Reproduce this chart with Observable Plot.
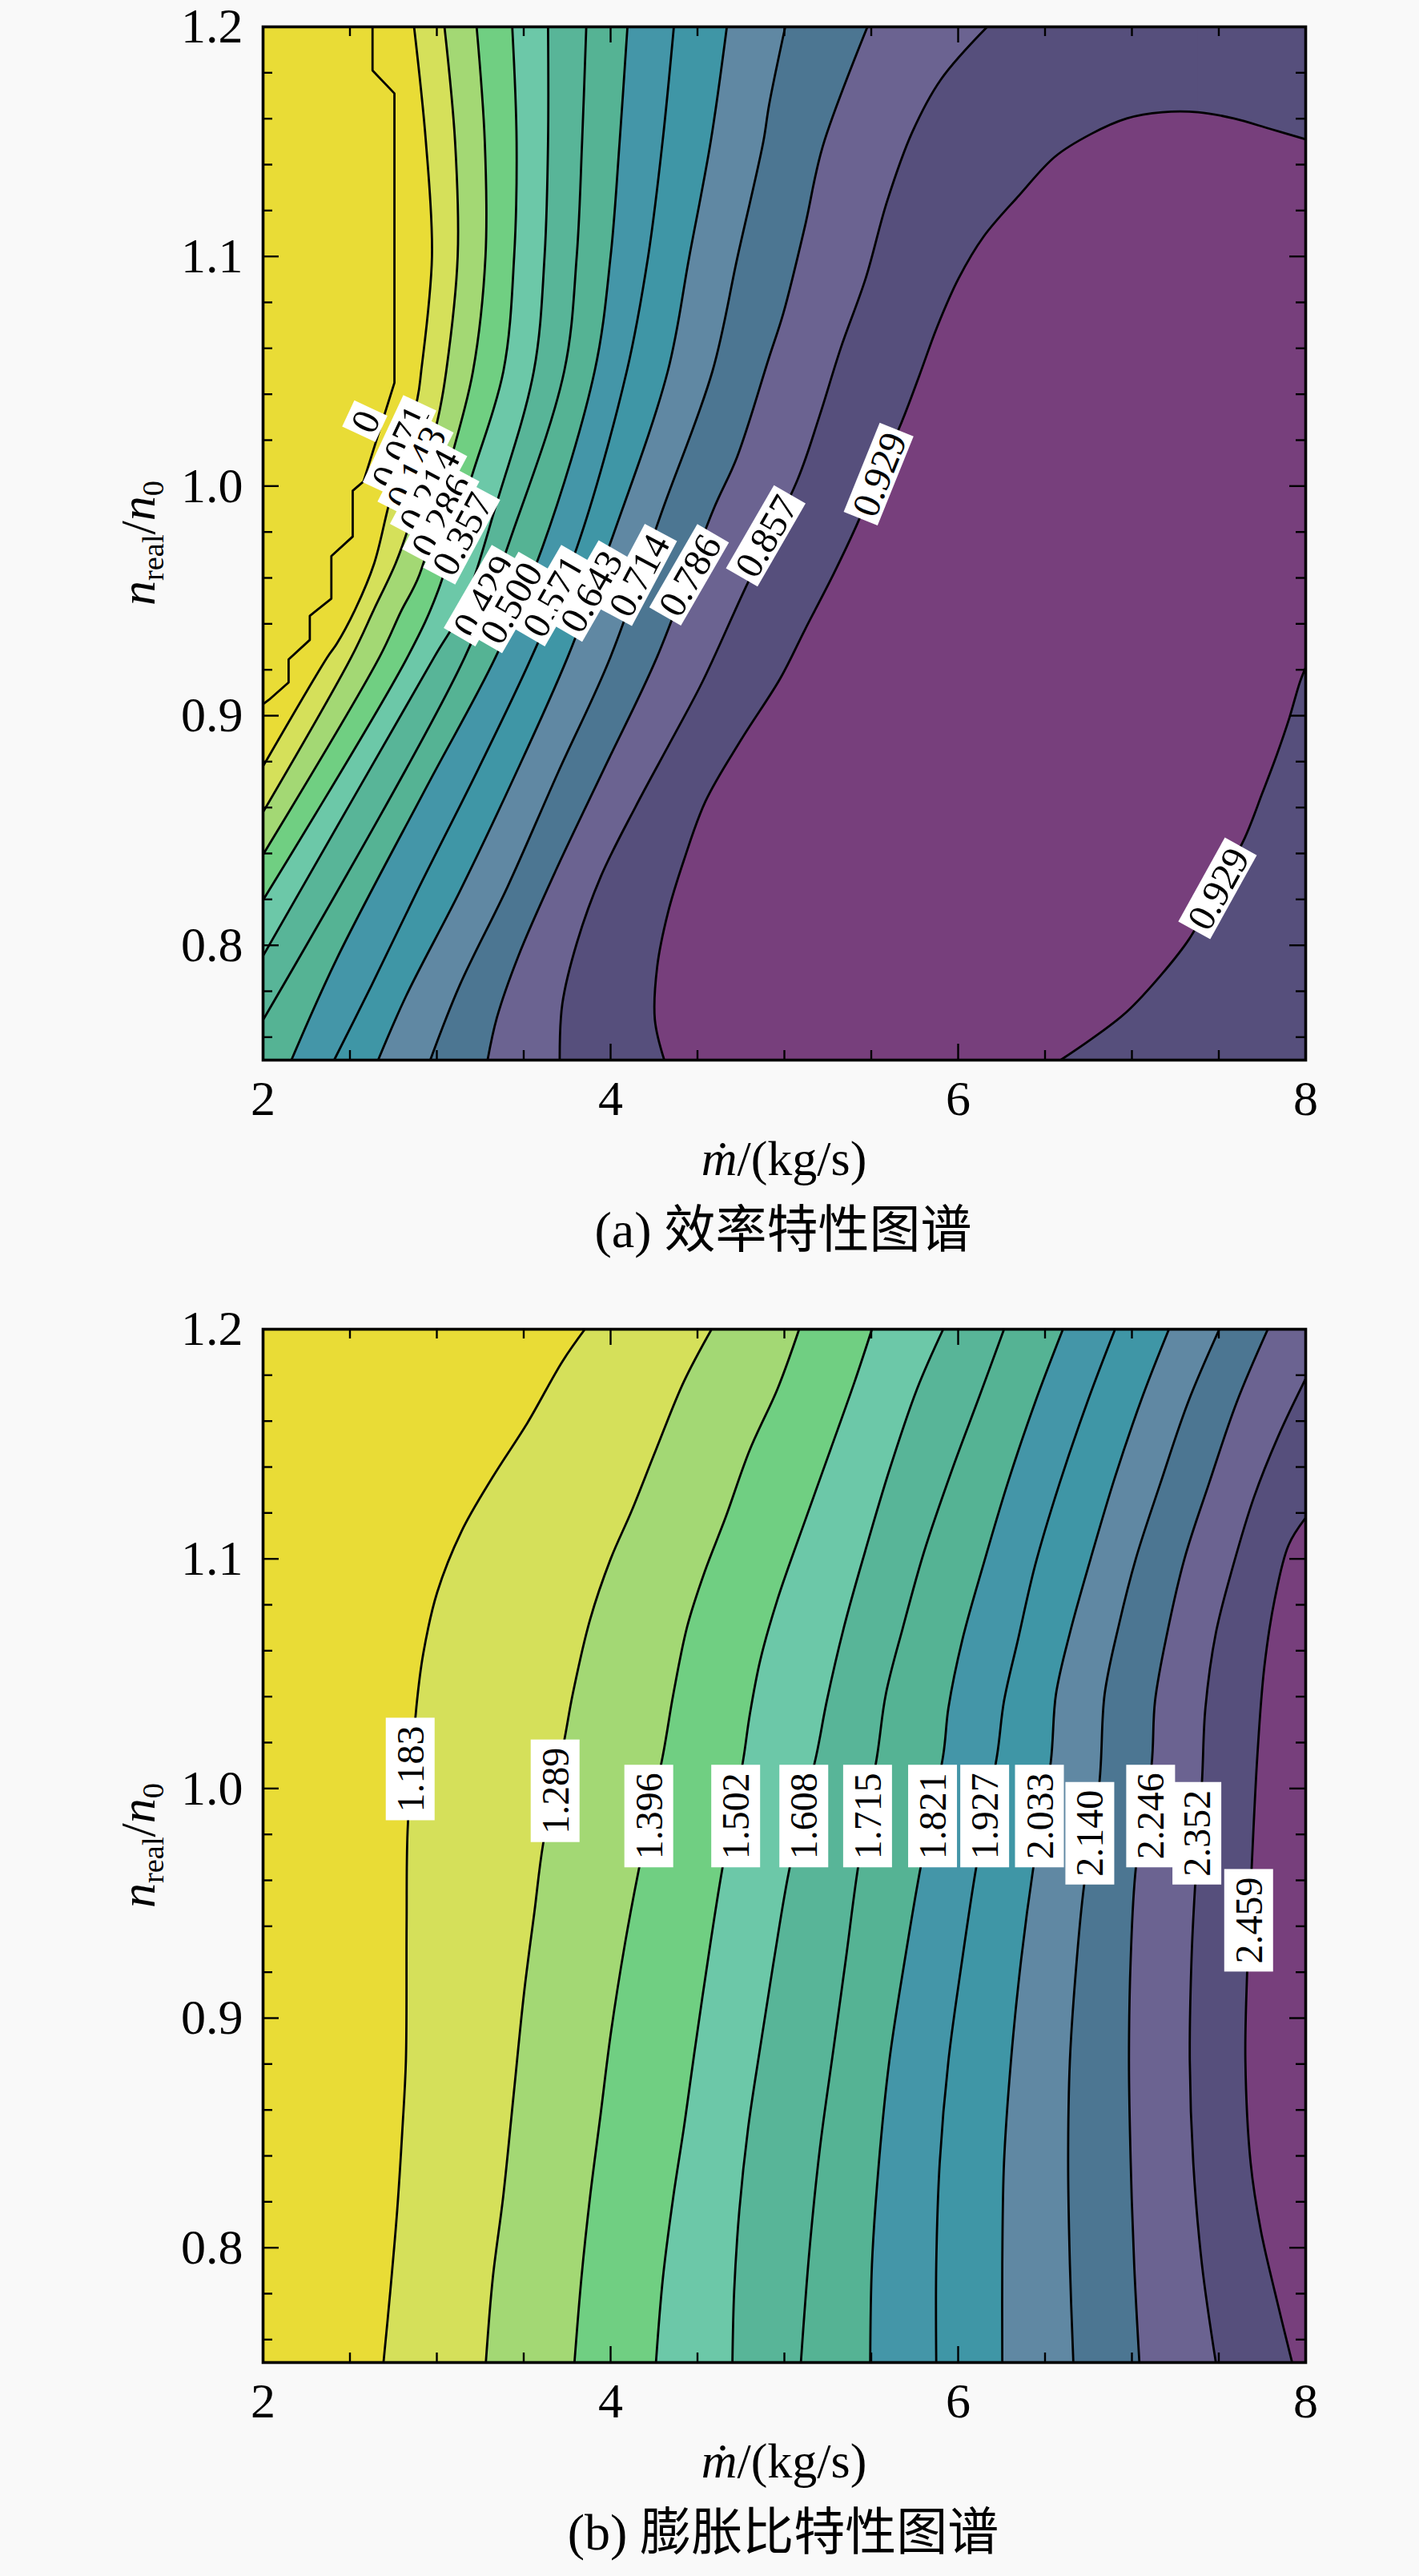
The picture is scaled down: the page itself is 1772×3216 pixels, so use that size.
<!DOCTYPE html>
<html>
<head>
<meta charset="utf-8">
<script src="https://cdn.jsdelivr.net/npm/d3@7"></script>
<script src="https://cdn.jsdelivr.net/npm/@observablehq/plot@0.6"></script>
<style>
  html, body { margin: 0; padding: 0; background: #f9f9f9; }
  body { width: 1772px; height: 3216px; position: relative; overflow: hidden; }
  .panel { position: absolute; left: 0; }
  .lab { position: absolute; font-family: 'Liberation Serif', 'Times New Roman', serif; font-size: 62px; line-height: 1; white-space: nowrap; color: #000; }
  .cap { font-family: 'Liberation Serif', 'Noto Sans CJK SC', serif; font-size: 64px; }
  .lab sub { font-size: 0.62em; vertical-align: -0.28em; line-height: 0; }
</style>
</head>
<body>
<div id="pa" class="panel" style="top:0px"></div>
<div id="pb" class="panel" style="top:1626px"></div>

<div class="lab" style="left:979px; top:1415px; transform:translateX(-50%)"><i>ṁ</i>/(kg/s)</div>
<div class="lab cap" style="left:978px; top:1504px; transform:translateX(-50%)">(a) 效率特性图谱</div>
<div class="lab" style="left:172px; top:678px; transform:translate(-50%,-50%) rotate(-90deg)"><i>n</i><sub>real</sub>/<i>n</i><sub>0</sub></div>

<div class="lab" style="left:979px; top:3041px; transform:translateX(-50%)"><i>ṁ</i>/(kg/s)</div>
<div class="lab cap" style="left:978px; top:3130px; transform:translateX(-50%)">(b) 膨胀比特性图谱</div>
<div class="lab" style="left:172px; top:2304px; transform:translate(-50%,-50%) rotate(-90deg)"><i>n</i><sub>real</sub>/<i>n</i><sub>0</sub></div>

<script>
// ---------------- shared axis data ----------------
const xMajor = [2, 4, 6, 8];
const xMinor = [2.5, 3, 3.5, 4.5, 5, 5.5, 6.5, 7, 7.5];
const yMajor = [0.8, 0.9, 1.0, 1.1, 1.2];
const yMinor = [0.76, 0.78, 0.82, 0.84, 0.86, 0.88, 0.92, 0.94, 0.96, 0.98, 1.02, 1.04, 1.06, 1.08, 1.12, 1.14, 1.16, 1.18];

// band colours, lowest band -> highest band
const palette = ["#e9dc36", "#d5e05a", "#a3d874", "#70cf82", "#6cc8a8", "#58b598", "#55b394",
                 "#4496a8", "#3f96a6", "#6088a3", "#4c7692", "#6b6391", "#564f7c", "#773f7c"];

// ---------------- (a) efficiency map: contour lines [x, y] ----------------
const eff0 = [[2.63,1.2],[2.63,1.181],[2.756,1.171],[2.756,1.045],[2.578,1.002],[2.516,0.998],[2.516,0.978],
  [2.393,0.9695],[2.393,0.951],[2.269,0.9435],[2.269,0.933],[2.147,0.9245],[2.147,0.9145],[2.035,0.907],[2.0,0.905]];
const eff071 = [[2.869,1.2],[2.937,1.15],[2.972,1.1],[2.91,1.05],[2.888,1.038],[2.7235,0.9918],[2.639,0.9662],
  [2.531,0.9464],[2.424,0.9313],[2.37,0.9255],[2.0,0.878]];
const eff143 = [[3.044,1.2],[3.105,1.15],[3.12,1.1],[3.054,1.05],[3.008,1.03],[2.839,0.9825],[2.762,0.9662],
  [2.639,0.9464],[2.508,0.9255],[2.0,0.858]];
const eff214 = [[3.229,1.2],[3.276,1.15],[3.28,1.1],[3.208,1.05],[3.085,1.0127],[2.9,0.9614],[2.793,0.9453],
  [2.67,0.9255],[2.0,0.8395]];
const eff286 = [[3.434,1.2],[3.459,1.15],[3.445,1.1],[3.383,1.05],[3.192,1.002],[3.008,0.9546],[2.831,0.9255],[2.0,0.8197]];
const eff357 = [[3.64,1.2],[3.64,1.15],[3.62,1.1],[3.558,1.05],[3.346,0.993],[3.146,0.9464],[2.985,0.9255],[2.0,0.7954]];
const eff429 = [[3.86,1.2],[3.836,1.15],[3.805,1.1],[3.733,1.05],[3.437,0.98],[3.161,0.9255],[2.0,0.7675]];
const eff500 = [[4.097,1.2],[4.052,1.15],[4.0,1.1],[3.908,1.05],[3.607,0.9732],[3.338,0.9255],[2.946,0.8697],
  [2.424,0.7941],[2.163,0.75]];
const eff571 = [[4.364,1.2],[4.299,1.15],[4.216,1.1],[4.093,1.05],[3.806,0.9732],[3.545,0.9255],[3.238,0.8767],
  [2.885,0.8233],[2.624,0.7825],[2.409,0.75]];
const eff643 = [[4.669,1.2],[4.576,1.15],[4.453,1.1],[4.329,1.05],[4.021,0.98],[3.753,0.9255],[3.438,0.8721],
  [3.131,0.8233],[2.823,0.7779],[2.662,0.75]];
const eff714 = [[5.005,1.2],[4.912,1.166],[4.879,1.15],[4.731,1.1],[4.586,1.05],[4.298,0.9895],[3.999,0.9255],
  [3.699,0.8755],[3.407,0.8255],[3.131,0.7825],[2.962,0.75]];
const eff786 = [[5.478,1.2],[5.221,1.148],[5.118,1.113],[4.995,1.0755],[4.912,1.056],[4.728,1.0127],[4.59,0.9895],
  [4.267,0.9255],[3.976,0.879],[3.684,0.8325],[3.469,0.7953],[3.346,0.7686],[3.292,0.75]];
const eff857 = [[6.167,1.2],[5.9,1.177],[5.735,1.154],[5.591,1.124],[5.468,1.0905],[5.324,1.06],[5.2,1.03],
  [5.077,1.003],[4.775,0.9555],[4.53,0.915],[4.359,0.8906],[4.144,0.8604],[3.945,0.8302],[3.806,0.8011],
  [3.722,0.7744],[3.707,0.75]];
const eff929a = [[8.0,1.151],[7.793,1.1556],[7.587,1.1601],[7.381,1.1628],[7.175,1.1628],[6.97,1.1601],[6.764,1.1533],
  [6.558,1.1435],[6.353,1.1268],[6.147,1.1087],[6.003,1.0905],[5.879,1.0693],[5.777,1.0482],[5.674,1.0277],
  [5.54,1.005],[5.406,0.9813],[5.283,0.9617],[5.118,0.9374],[4.977,0.9163],[4.751,0.8895],[4.546,0.8627],
  [4.422,0.8371],[4.329,0.8139],[4.268,0.7906],[4.255,0.7674],[4.309,0.75]];
const eff929b = [[8.0,0.921],[7.967,0.9147],[7.906,0.899],[7.834,0.883],[7.751,0.8664],[7.649,0.8467],[7.49,0.8245],
  [7.33,0.8028],[7.175,0.7877],[6.97,0.771],[6.764,0.759],[6.589,0.75]];
// line order: 0, 0.071 ... 0.857
const effLines = [eff0, eff071, eff143, eff214, eff286, eff357, eff429, eff500, eff571, eff643, eff714, eff786, eff857];
const effLabels = [
  ["0", 2.593, 1.028, -65], ["0.071", 2.793, 1.017, -65], ["0.143", 2.885, 1.008, -63],
  ["0.214", 2.96, 0.998, -62], ["0.286", 3.03, 0.987, -62], ["0.357", 3.15, 0.979, -62],
  ["0.429", 3.276, 0.952, -60], ["0.500", 3.43, 0.949, -60], ["0.571", 3.676, 0.952, -60],
  ["0.643", 3.891, 0.954, -60], ["0.714", 4.167, 0.961, -62], ["0.786", 4.459, 0.961, -60],
  ["0.857", 4.90, 0.978, -60], ["0.929", 5.55, 1.005, -68], ["0.929", 7.50, 0.8245, -61]
];

// ---------------- (b) expansion-ratio map: contour lines [x, y] ----------------
const exp1183 = [[3.852,1.2],[3.722,1.1859],[3.522,1.1593],[3.322,1.1357],[3.142,1.112],[3.002,1.0854],[2.922,1.0588],
  [2.882,1.0352],[2.832,0.9819],[2.826,0.9405],[2.822,0.8814],[2.802,0.8518],[2.772,0.8164],[2.732,0.7809],[2.693,0.75]];
const exp1289 = [[4.581,1.2],[4.421,1.1771],[4.261,1.1475],[4.121,1.1209],[4.001,1.1001],[3.882,1.0736],[3.782,1.0411],
  [3.732,1.0204],[3.612,0.976],[3.562,0.9465],[3.502,0.911],[3.442,0.8666],[3.382,0.8223],[3.322,0.7868],[3.282,0.75]];
const exp1396 = [[5.085,1.2],[4.961,1.1741],[4.801,1.1475],[4.661,1.1179],[4.541,1.0943],[4.441,1.0706],[4.361,1.0411],
  [4.301,1.0145],[4.161,0.9642],[4.081,0.9317],[4.001,0.8932],[3.942,0.8578],[3.882,0.8223],[3.832,0.7868],[3.792,0.75]];
const exp1502 = [[5.504,1.2],[5.404,1.1771],[5.265,1.1475],[5.125,1.1179],[4.961,1.0825],[4.861,1.0558],[4.801,1.0322],
  [4.761,1.0115],[4.641,0.9642],[4.561,0.9258],[4.481,0.8844],[4.421,0.8519],[4.361,0.8223],[4.301,0.7868],[4.261,0.75]];
const exp1608 = [[5.914,1.2],[5.764,1.1741],[5.604,1.1386],[5.464,1.1031],[5.344,1.0706],[5.244,1.0381],[5.184,1.0145],
  [5.031,0.9657],[4.941,0.9258],[4.861,0.8873],[4.791,0.8519],[4.741,0.8164],[4.711,0.7809],[4.701,0.75]];
const exp1715 = [[6.264,1.2],[6.124,1.1711],[5.964,1.1386],[5.804,1.1031],[5.684,1.0706],[5.584,1.0411],[5.534,1.0144],
  [5.424,0.9657],[5.354,0.9258],[5.284,0.8873],[5.204,0.843],[5.144,0.7986],[5.095,0.75]];
const exp1821 = [[6.603,1.2],[6.443,1.1682],[6.284,1.1327],[6.144,1.0972],[6.024,1.0647],[5.944,1.0351],[5.914,1.0144],
  [5.784,0.9657],[5.694,0.9258],[5.604,0.8814],[5.544,0.8371],[5.504,0.7927],[5.494,0.75]];
const exp1927 = [[6.903,1.2],[6.743,1.1682],[6.583,1.1327],[6.443,1.0972],[6.344,1.0647],[6.264,1.0381],[6.224,1.0144],
  [6.104,0.9657],[6.024,0.9258],[5.944,0.8814],[5.894,0.8371],[5.874,0.7927],[5.874,0.75]];
const exp2033 = [[7.213,1.2],[7.063,1.1711],[6.903,1.1357],[6.763,1.1002],[6.643,1.0677],[6.563,1.0411],[6.533,1.0115],
  [6.433,0.9657],[6.363,0.9258],[6.304,0.8814],[6.264,0.8371],[6.254,0.7927],[6.254,0.75]];
const exp2140 = [[7.503,1.2],[7.323,1.1682],[7.163,1.1327],[7.023,1.1002],[6.923,1.0706],[6.843,1.0411],[6.813,1.0026],
  [6.723,0.9568],[6.683,0.9258],[6.643,0.8814],[6.633,0.8371],[6.643,0.7927],[6.663,0.75]];
const exp2246 = [[7.782,1.2],[7.603,1.1682],[7.443,1.1327],[7.303,1.1002],[7.203,1.0677],[7.133,1.0381],[7.113,1.01],
  [7.023,0.9657],[6.993,0.9258],[6.983,0.8814],[6.993,0.8371],[7.013,0.7927],[7.043,0.75]];
const exp2352 = [[8.0,1.1785],[7.842,1.1534],[7.702,1.1268],[7.583,1.0972],[7.483,1.0677],[7.423,1.0351],[7.403,1.0026],
  [7.363,0.9568],[7.343,0.9258],[7.333,0.8814],[7.353,0.8371],[7.403,0.7927],[7.483,0.75]];
const exp2459 = [[8.0,1.1179],[7.902,1.1061],[7.822,1.0825],[7.762,1.0529],[7.722,1.0144],[7.692,0.9701],[7.663,0.9198],
  [7.653,0.8814],[7.683,0.8371],[7.742,0.8075],[7.822,0.7809],[7.922,0.75]];
const expLines = [exp1183, exp1289, exp1396, exp1502, exp1608, exp1715, exp1821, exp1927, exp2033, exp2140, exp2246, exp2352, exp2459];
const expLabels = [
  ["1.183", 2.852, 1.0085], ["1.289", 3.686, 0.999], ["1.396", 4.225, 0.988], ["1.502", 4.725, 0.988],
  ["1.608", 5.117, 0.988], ["1.715", 5.484, 0.988], ["1.821", 5.858, 0.988], ["1.927", 6.158, 0.988],
  ["2.033", 6.473, 0.988], ["2.140", 6.763, 0.9805], ["2.246", 7.113, 0.988], ["2.352", 7.379, 0.9805],
  ["2.459", 7.677, 0.9426]
];

// ---------------- layout ----------------
const W = 1772, H = 1420, ML = 328, MR = 142, MT = 33, MB = 97;
const FW = W - ML - MR, FH = H - MT - MB;
const CR = "catmull-rom";
const px = d => d[0], py = d => d[1];
const LW = 2.8;

function commonMarks() {
  const k = {stroke: "#000", strokeWidth: 2.4};
  return [
    Plot.tickX(xMajor, {x: d => d, insetTop: FH - 20, ...k}),
    Plot.tickX(xMajor, {x: d => d, insetBottom: FH - 20, ...k}),
    Plot.tickX(xMinor, {x: d => d, insetTop: FH - 12, ...k}),
    Plot.tickX(xMinor, {x: d => d, insetBottom: FH - 12, ...k}),
    Plot.tickY(yMajor, {y: d => d, insetRight: FW - 20, ...k}),
    Plot.tickY(yMajor, {y: d => d, insetLeft: FW - 20, ...k}),
    Plot.tickY(yMinor, {y: d => d, insetRight: FW - 12, ...k}),
    Plot.tickY(yMinor, {y: d => d, insetLeft: FW - 12, ...k}),
    Plot.axisX({ticks: xMajor, tickSize: 0, tickPadding: 24, label: null, tickFormat: d => String(d)}),
    Plot.axisY({ticks: yMajor, tickSize: 0, tickPadding: 25, label: null, tickFormat: d => d.toFixed(1)}),
    Plot.frame({stroke: "#000", strokeWidth: 3.6})
  ];
}

function plotPanel(marks) {
  return Plot.plot({
    width: W, height: H, marginLeft: ML, marginRight: MR, marginTop: MT, marginBottom: MB,
    x: {domain: [2, 8]}, y: {domain: [0.75, 1.2]},
    style: {background: "transparent", fontFamily: "'Liberation Serif', 'Times New Roman', serif", fontSize: "62px", color: "#000", overflow: "visible"},
    marks
  });
}

// white boxes behind the contour labels (matplotlib clabel style)
// tight = box hugs the digit height instead of the full em box
function boxLabels(svg, labels, pad, fs, tight) {
  const NS = "http://www.w3.org/2000/svg";
  const wanted = new Set(labels.map(d => d[0]));
  const texts = Array.from(svg.querySelectorAll("text")).filter(t => {
    if (!wanted.has(t.textContent.trim())) return false;
    const g = t.closest("g");
    const al = g ? (g.getAttribute("aria-label") || "") : "";
    return !/axis/.test(al);
  });
  for (const t of texts) {
    let b;
    try { b = t.getBBox(); } catch (e) { b = null; }
    if (!b || !b.width) {
      const n = t.textContent.trim().length;
      b = {x: -n * fs * 0.24, y: -fs * 0.55, width: n * fs * 0.48, height: fs * 1.1};
    }
    let y0 = b.y - pad * 0.4, h = b.height + pad * 0.8;
    if (tight) {
      const base = b.y + b.height - 0.216 * fs;       // text baseline
      y0 = base - 0.70 * fs - pad;
      h = 0.70 * fs + 2 * pad;
    }
    const r = document.createElementNS(NS, "rect");
    r.setAttribute("x", b.x - pad);
    r.setAttribute("y", y0);
    r.setAttribute("width", b.width + 2 * pad);
    r.setAttribute("height", h);
    r.setAttribute("fill", "#ffffff");
    const tr = t.getAttribute("transform");
    if (tr) r.setAttribute("transform", tr);
    t.parentNode.insertBefore(r, t);
  }
}

// ---------------- panel (a) ----------------
{
  const topIdx = eff929a.reduce((m, d, i, a) => d[1] > a[m][1] ? i : m, 0);
  const cap = eff929a.slice(0, topIdx + 1);
  const body = eff929a.slice(topIdx);
  const marks = [
    Plot.frame({fill: palette[12]}),
    Plot.areaX(body, {y: py, x1: px, x2: () => 8, fill: palette[13], curve: CR, clip: true}),
    Plot.areaX(eff929b, {y: py, x1: px, x2: () => 8, fill: palette[12], curve: CR, clip: true}),
    Plot.areaY(cap, {x: px, y1: py, y2: () => 1.2, fill: palette[12], curve: CR, clip: true})
  ];
  for (let k = effLines.length - 1; k >= 1; --k) {
    marks.push(Plot.areaX(effLines[k], {y: py, x1: () => 2, x2: px, fill: palette[k - 1], curve: CR, clip: true}));
  }
  effLines.forEach((pts, k) => marks.push(Plot.line(pts, {x: px, y: py, stroke: "#000", strokeWidth: LW, curve: k === 0 ? "linear" : CR, clip: true})));
  marks.push(Plot.line(eff929a, {x: px, y: py, stroke: "#000", strokeWidth: LW, curve: CR, clip: true}));
  marks.push(Plot.line(eff929b, {x: px, y: py, stroke: "#000", strokeWidth: LW, curve: CR, clip: true}));
  marks.push(Plot.text(effLabels, {x: d => d[1], y: d => d[2], text: d => d[0], rotate: d => d[3], fontSize: 48,
    fill: "#000", textAnchor: "middle", lineAnchor: "middle"}));
  marks.push(...commonMarks());
  const svg = plotPanel(marks);
  document.getElementById("pa").appendChild(svg);
  boxLabels(svg, effLabels, 6, 48, true);
}

// ---------------- panel (b) ----------------
{
  const marks = [Plot.frame({fill: palette[0]})];
  expLines.forEach((pts, k) => marks.push(Plot.areaX(pts, {y: py, x1: px, x2: () => 8, fill: palette[k + 1], curve: CR, clip: true})));
  expLines.forEach(pts => marks.push(Plot.line(pts, {x: px, y: py, stroke: "#000", strokeWidth: LW, curve: CR, clip: true})));
  marks.push(Plot.text(expLabels, {x: d => d[1], y: d => d[2], text: d => d[0], rotate: -90, fontSize: 48,
    fill: "#000", textAnchor: "middle", lineAnchor: "middle"}));
  marks.push(...commonMarks());
  const svg = plotPanel(marks);
  document.getElementById("pb").appendChild(svg);
  boxLabels(svg, expLabels, 10, 48, false);
}
</script>
</body>
</html>
